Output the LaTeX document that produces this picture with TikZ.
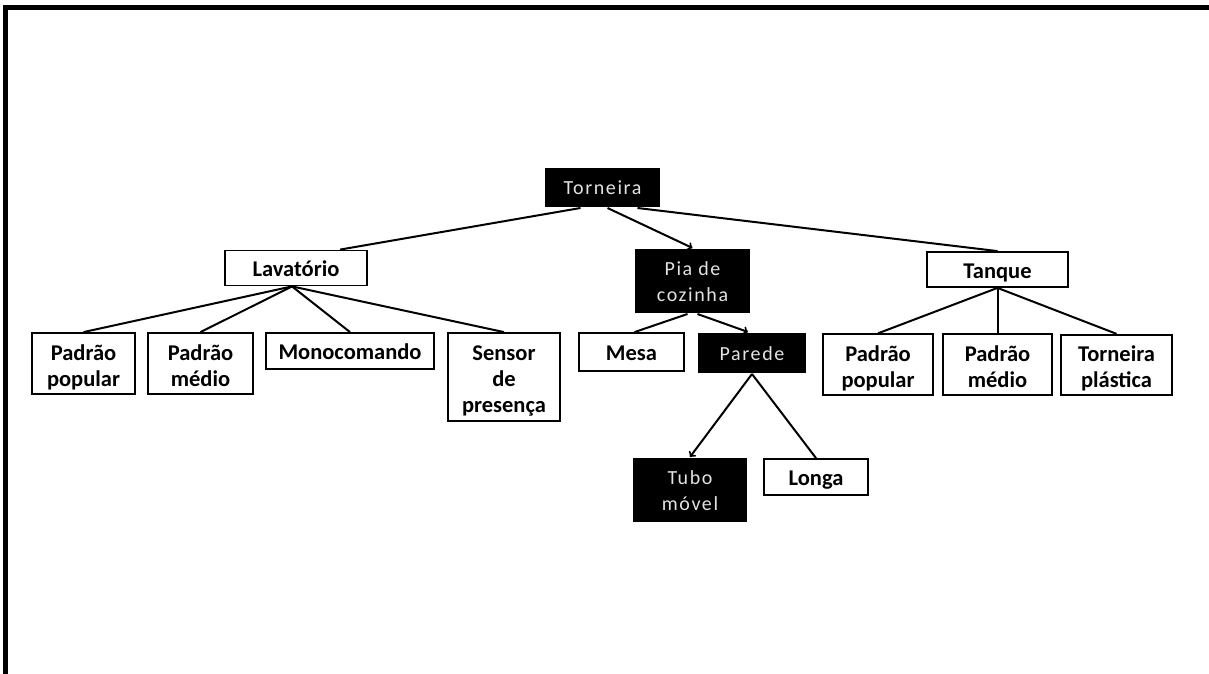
\documentclass[tikz,border=0pt]{standalone}
\usepackage{fontspec}
\setmainfont{Carlito}
\usetikzlibrary{arrows}

\begin{document}
\begin{tikzpicture}[x=1pt,y=-1pt,line width=2pt,>=to,
  box/.style={draw,fill=white,line width=1.8pt,inner sep=0pt,align=center,
    font={\fontsize{22.5}{26}\selectfont\bfseries},
    text height=25pt, text depth=7.5pt},
  dark/.style={fill=black,inner sep=0pt,align=center,text=gray!22,
    font={\fontsize{20}{26}\selectfont\addfontfeature{LetterSpace=8}},
    text height=22pt, text depth=7.5pt},
  lines/.style={text height=#1}]

\fill [white] (0,0) rectangle (1209,674);
\useasboundingbox (0,0) rectangle (1209,674);
\draw [line width=5pt] (5,674) -- (5,8) -- (1209,8);

\node [dark, minimum width=115, minimum height=39] (torneira) at (602.5,187.5) {Torneira};

\node [box, minimum width=142, minimum height=35] (lav) at (296,268) {Lavatório};
\node [dark, lines=48pt, minimum width=115, minimum height=64] (pia) at (692.5,281) {Pia de\\cozinha};
\node [box, minimum width=141, minimum height=35] (tanque) at (997.5,269.5) {Tanque};

\node [box, lines=53pt, minimum width=103, minimum height=61] (pp1) at (83.5,363.5) {Padrão\\popular};
\node [box, lines=53pt, minimum width=105, minimum height=61] (pm1) at (200.5,363.5) {Padrão\\médio};
\node [box, minimum width=168, minimum height=36] (mono) at (350,351) {Monocomando};
\node [box, lines=78pt, minimum width=112, minimum height=88] (sensor) at (504,377) {Sensor\\de\\presença};

\node [box, minimum width=105, minimum height=38] (mesa) at (631.5,352) {Mesa};
\node [dark, minimum width=108, minimum height=40] (parede) at (752,353) {Parede};

\node [box, lines=53pt, minimum width=110, minimum height=60] (pp2) at (878,364.5) {Padrão\\popular};
\node [box, lines=53pt, minimum width=109, minimum height=60] (pm2) at (997.5,364.5) {Padrão\\médio};
\node [box, lines=53pt, minimum width=111, minimum height=60] (tplast) at (1116.5,365) {Torneira\\plástica};

\node [dark, lines=48pt, minimum width=114, minimum height=64] (tubo) at (690,490) {Tubo\\móvel};
\node [box, minimum width=104, minimum height=36] (longa) at (816,477) {Longa};

\draw ([xshift=-22]torneira.south) -- ([xshift=44]lav.north);
\draw [->] ([xshift=5]torneira.south) -- (pia.north);
\draw ([xshift=35]torneira.south) -- (tanque.north);

\foreach \c in {pp1,pm1,mono,sensor}
    \draw ([xshift=-4]lav.south) -- (\c.north);

\draw ([xshift=-5]pia.south) -- ([xshift=3]mesa.north);
\draw [->] ([xshift=5]pia.south) -- ([xshift=-4]parede.north);

\foreach \c in {pp2,pm2,tplast}
    \draw (tanque.south) -- (\c.north);

\draw [->] (parede.south) -- (tubo.north);
\draw (parede.south) -- (longa.north);

\end{tikzpicture}
\end{document}
